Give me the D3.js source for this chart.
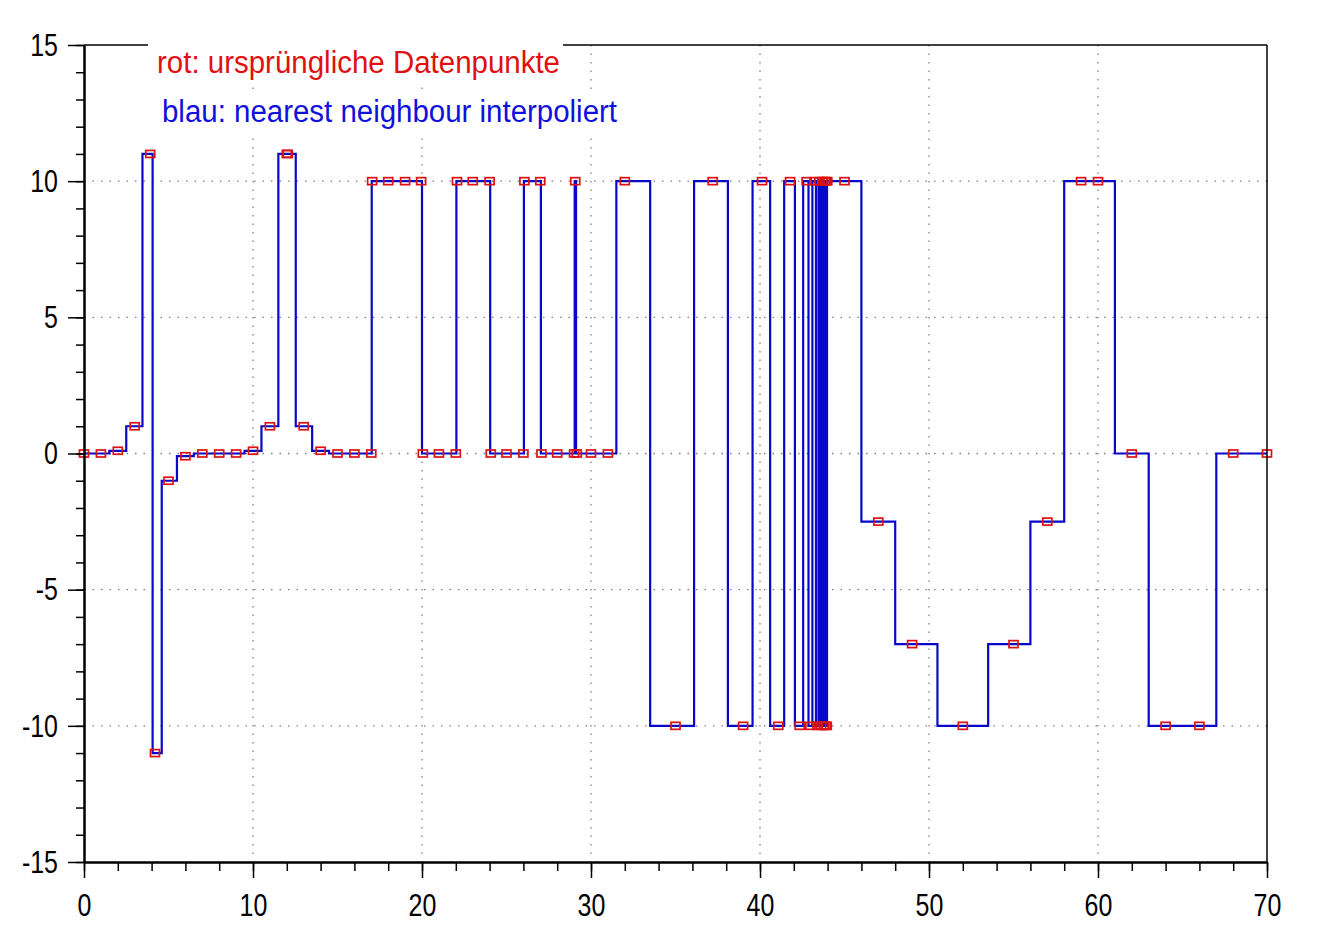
<!DOCTYPE html>
<html>
<head>
<meta charset="utf-8">
<script src="https://cdn.jsdelivr.net/npm/d3@7"></script>
<style>
  html, body { margin: 0; padding: 0; background: #ffffff; }
  svg { display: block; }
</style>
</head>
<body>
<svg id="chart" width="1322" height="948"></svg>
<script>
// ---- data ----
const xPoints = [0,1,2,3,3.92,4.2,5,6,7,8,
  9,10,11,12,12.06,13,14,15,16,17,
  17.05,18,19,19.95,20.05,21,22,22.07,23,24,
  24.07,25,26,26.06,27,27.07,28,29,29.07,29.16,
  30,31,32,35,37.2,39,40.12,41.08,41.78,42.35,
  42.76,42.98,43.22,43.4,43.52,43.62,43.7,43.77,43.83,43.88,
  43.92,43.95,43.98,45,47,49,52,55,57,59,
  60,62,64,66,68,70];
const yPoints = [0,0,0.1,1,11,-11,-1,-0.1,0,0,
  0,0.1,1,11,11,1,0.1,0,0,0,
  10,10,10,10,0,0,0,10,10,10,
  0,0,0,10,10,0,0,0,10,0,
  0,0,10,-10,10,-10,10,-10,10,-10,
  10,-10,10,-10,10,-10,10,-10,10,-10,
  10,-10,10,10,-2.5,-7,-10,-7,-2.5,10,
  10,0,-10,-10,0,0];
const xMajorTicks = [0,10,20,30,40,50,60,70];
const xMinorTicks = d3.range(0, 71, 2);
const yMajorTicks = [-15,-10,-5,0,5,10,15];
const yMinorTicks = d3.range(-15, 16, 1);
const xGrid = [10,20,30,40,50,60];
const yGrid = [-10,-5,0,5,10];
const legendRed = "rot: ursprüngliche Datenpunkte";
const legendBlue = "blau: nearest neighbour interpoliert";

const points = xPoints.map((x, i) => ({x: x, y: yPoints[i]}));

// ---- font detection ----
function fontAvailable(name) {
  const c = document.createElement('canvas').getContext('2d');
  const s = 'abcdefghijklmnop 0123456789';
  c.font = '40px monospace';
  const w1 = c.measureText(s).width;
  c.font = '40px "' + name + '", monospace';
  const w2 = c.measureText(s).width;
  return Math.abs(w1 - w2) > 0.5;
}
const narrow = fontAvailable('Liberation Sans Narrow');
const fam = narrow ? '"Liberation Sans Narrow", "Liberation Sans", Arial, sans-serif' : '"Liberation Sans", Arial, sans-serif';
const sx = narrow ? 0.95 : 0.78;

// ---- layout ----
const L = 84, R = 1267, T = 45, B = 862;
const svg = d3.select('#chart');
const x = d3.scaleLinear().domain([0, 70]).range([L, R]);
const y = d3.scaleLinear().domain([-15, 15]).range([B, T]);

// grid
const grid = svg.append('g').attr('stroke', '#808080').attr('stroke-width', 1.3).attr('stroke-dasharray', '1.5,7');
grid.selectAll('line.gx').data(xGrid).enter().append('line')
  .attr('x1', d => x(d)).attr('x2', d => x(d)).attr('y1', T).attr('y2', B);
grid.selectAll('line.gy').data(yGrid).enter().append('line')
  .attr('x1', L).attr('x2', R).attr('y1', d => y(d)).attr('y2', d => y(d));

// blue nearest-neighbour line
const line = d3.line().x(d => x(d.x)).y(d => y(d.y)).curve(d3.curveStep);
svg.append('path').datum(points)
  .attr('d', line).attr('fill', 'none')
  .attr('stroke', '#0808c8').attr('stroke-width', 2.2);

// red squares
const sw = 9, sh = 7;
svg.append('g').selectAll('rect').data(points).enter().append('rect')
  .attr('x', d => x(d.x) - sw / 2).attr('y', d => y(d.y) - sh / 2)
  .attr('width', sw).attr('height', sh)
  .attr('fill', 'none').attr('stroke', '#dd1111').attr('stroke-width', 1.7);

// borders (top, right)
svg.append('line').attr('x1', L).attr('x2', R).attr('y1', T).attr('y2', T).attr('stroke', '#000').attr('stroke-width', 1.5);
svg.append('line').attr('x1', R).attr('x2', R).attr('y1', T).attr('y2', B).attr('stroke', '#000').attr('stroke-width', 1.5);

// axes
function styleAxis(g) {
  g.selectAll('path.domain').attr('stroke', '#000').attr('stroke-width', 2);
  g.selectAll('.tick line').attr('stroke', '#000').attr('stroke-width', 1.5);
}
const xMinor = svg.append('g').attr('transform', `translate(0,${B})`)
  .call(d3.axisBottom(x).tickValues(xMinorTicks).tickSize(9).tickSizeOuter(0).tickFormat(''));
styleAxis(xMinor);
const xMajor = svg.append('g').attr('transform', `translate(0,${B})`)
  .call(d3.axisBottom(x).tickValues(xMajorTicks).tickSize(16).tickSizeOuter(0).tickPadding(15).tickFormat(d3.format('d')));
styleAxis(xMajor);
xMajor.selectAll('text').attr('font-family', fam).attr('font-size', 32).attr('fill', '#000')
  .attr('transform', `scale(${sx},1)`);

const yMinor = svg.append('g').attr('transform', `translate(${L},0)`)
  .call(d3.axisLeft(y).tickValues(yMinorTicks).tickSize(8).tickSizeOuter(0).tickFormat(''));
styleAxis(yMinor);
const yMajor = svg.append('g').attr('transform', `translate(${L},0)`)
  .call(d3.axisLeft(y).tickValues(yMajorTicks).tickSize(16).tickSizeOuter(0).tickPadding(10).tickFormat(d => d < 0 ? '-' + Math.abs(d) : String(d)));
styleAxis(yMajor);
yMajor.selectAll('text').attr('font-family', fam).attr('font-size', 32).attr('fill', '#000')
  .attr('x', -26 / sx).attr('transform', `scale(${sx},1)`);

// legend
svg.append('rect').attr('x', 148).attr('y', 38).attr('width', 415).attr('height', 44).attr('fill', '#fff');
svg.append('rect').attr('x', 155).attr('y', 90).attr('width', 468).attr('height', 42).attr('fill', '#fff');
svg.append('text').text(legendRed)
  .attr('x', 157).attr('y', 73)
  .attr('font-family', fam).attr('font-size', 31).attr('fill', '#e01010')
  .attr('textLength', 403).attr('lengthAdjust', 'spacingAndGlyphs');
svg.append('text').text(legendBlue)
  .attr('x', 162).attr('y', 122)
  .attr('font-family', fam).attr('font-size', 31).attr('fill', '#1010dd')
  .attr('textLength', 455).attr('lengthAdjust', 'spacingAndGlyphs');
</script>
</body>
</html>
